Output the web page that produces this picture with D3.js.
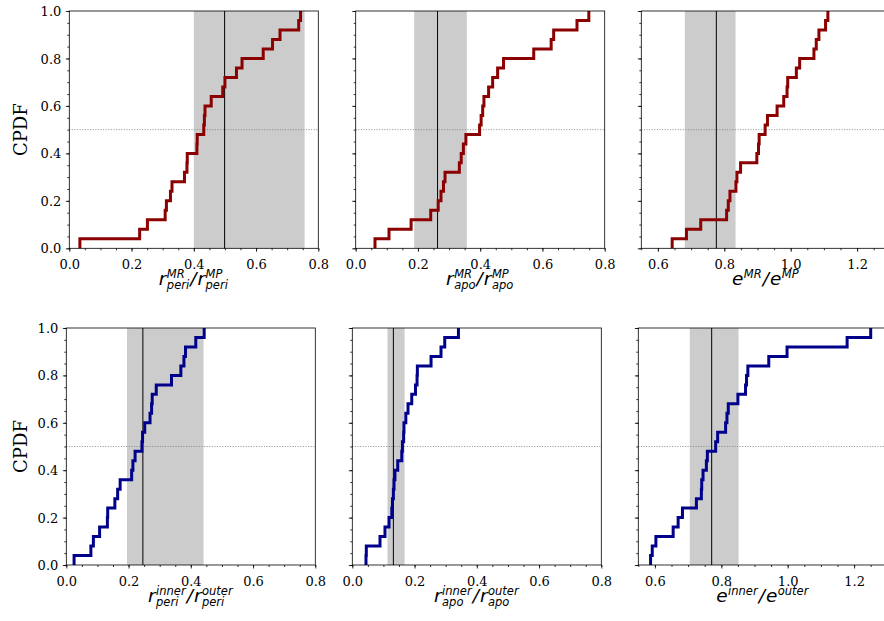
<!DOCTYPE html>
<html><head><meta charset="utf-8">
<script src="https://cdn.jsdelivr.net/npm/d3@7/dist/d3.min.js"></script>
<style>body{margin:0;background:#fff;} svg{display:block}</style>
</head><body><svg id="c" width="884" height="621"></svg>
<script>
// ---- data (sorted samples; CDF steps of 1/25) ----
const rPeriMR = [0.034,0.226,0.251,0.308,0.312,0.325,0.330,0.370,0.378,0.379,0.410,0.411,0.432,0.434,0.436,0.456,0.493,0.500,0.537,0.555,0.623,0.653,0.677,0.737,0.743];
const rApoMR  = [0.062,0.107,0.178,0.241,0.265,0.274,0.282,0.287,0.333,0.339,0.346,0.354,0.398,0.403,0.408,0.412,0.427,0.440,0.456,0.475,0.572,0.628,0.636,0.711,0.749];
const eMR     = [0.643,0.686,0.729,0.807,0.812,0.817,0.835,0.838,0.849,0.898,0.903,0.905,0.923,0.930,0.959,0.979,0.989,0.991,1.017,1.027,1.070,1.077,1.085,1.105,1.112];
const rPeriIO = [0.025,0.079,0.087,0.107,0.132,0.133,0.156,0.165,0.173,0.210,0.214,0.221,0.243,0.245,0.252,0.269,0.274,0.276,0.289,0.338,0.368,0.378,0.383,0.416,0.443];
const rApoIO  = [0.044,0.045,0.089,0.105,0.118,0.127,0.129,0.132,0.134,0.137,0.146,0.159,0.161,0.165,0.166,0.172,0.179,0.191,0.203,0.208,0.209,0.253,0.285,0.297,0.341];
const eIO     = [0.587,0.592,0.603,0.655,0.670,0.683,0.725,0.740,0.741,0.745,0.755,0.758,0.783,0.789,0.813,0.817,0.821,0.850,0.873,0.876,0.880,0.943,0.998,1.179,1.250];
const seriesList = [rPeriMR, rApoMR, eMR, rPeriIO, rApoIO, eIO];
const bandLo = [0.400,0.188,0.681,0.195,0.113,0.705];
const bandHi = [0.756,0.357,0.834,0.441,0.168,0.852];
const medianLine = [0.499,0.263,0.776,0.246,0.132,0.771];
const xDomainR = [0, 0.8], xDomainE = [0.55, 1.30];
const xTicksR = [0,0.2,0.4,0.6,0.8], xTicksE = [0.6,0.8,1.0,1.2];
const yTicks = [0,0.2,0.4,0.6,0.8,1.0];
const refLevel = 0.5;
const yLabel = "CPDF";
const xLabels = [
  [{b:"r",sup:"MR",sub:"peri"},{t:"/"},{b:"r",sup:"MP",sub:"peri"}],
  [{b:"r",sup:"MR",sub:"apo"},{t:"/"},{b:"r",sup:"MP",sub:"apo"}],
  [{b:"e",sup:"MR"},{t:"/"},{b:"e",sup:"MP"}],
  [{b:"r",sup:"inner",sub:"peri"},{t:"/"},{b:"r",sup:"outer",sub:"peri"}],
  [{b:"r",sup:"inner",sub:"apo"},{t:"/"},{b:"r",sup:"outer",sub:"apo"}],
  [{b:"e",sup:"inner"},{t:"/"},{b:"e",sup:"outer"}]
];
const colors = ["#8b0000","#8b0000","#8b0000","#00008b","#00008b","#00008b"];

// ---- layout ----
const W = 249;
const lefts = [[69.3,355.7,641.3],[66.3,352.3,638.3]];
const tops = [[11,248.3],[328,565]];

const svg = d3.select("#c");
const tickFont = "DejaVu Serif";

function minorVals(dom){ const a=[]; for(let v=Math.ceil(dom[0]/0.05-1e-9)*0.05; v<=dom[1]+1e-9; v+=0.05) a.push(+v.toFixed(3)); return a; }

for (let k=0;k<6;k++){
  const row = Math.floor(k/3), col = k%3;
  const x0 = lefts[row][col], y0 = tops[row][0], y1 = tops[row][1];
  const dom = col===2 ? xDomainE : xDomainR;
  const xt = col===2 ? xTicksE : xTicksR;
  const x = d3.scaleLinear().domain(dom).range([x0, x0+W]);
  const y = d3.scaleLinear().domain([0,1]).range([y1, y0]);
  const g = svg.append("g");

  // band
  g.append("rect").attr("x", x(bandLo[k])).attr("y", y0)
    .attr("width", x(bandHi[k])-x(bandLo[k])).attr("height", y1-y0).attr("fill","#cccccc");
  // reference dotted line
  g.append("line").attr("x1", x0).attr("x2", x0+W).attr("y1", y(refLevel)).attr("y2", y(refLevel))
    .attr("stroke","#808080").attr("stroke-width",0.9).attr("stroke-dasharray","1,1.6");
  // median line
  g.append("line").attr("x1", x(medianLine[k])).attr("x2", x(medianLine[k])).attr("y1", y0).attr("y2", y1)
    .attr("stroke","#000").attr("stroke-width",1);
  // step CDF
  const v = seriesList[k], N = v.length;
  const pts = [{x:v[0], y:0}].concat(v.map((d,i)=>({x:d, y:(i+1)/N})));
  const line = d3.line().x(d=>x(d.x)).y(d=>y(d.y)).curve(d3.curveStepAfter);
  g.append("path").datum(pts).attr("d", line).attr("fill","none")
    .attr("stroke", colors[k]).attr("stroke-width",3).attr("stroke-linejoin","miter");

  // axes
  const xa = g.append("g").attr("transform",`translate(0,${y1})`)
    .call(d3.axisBottom(x).tickValues(xt).tickFormat(d3.format(".1f")).tickSizeInner(3.5).tickSizeOuter(0).tickPadding(4));
  xa.attr("font-family",tickFont).attr("font-size",13);
  xa.selectAll("text").attr("font-family",tickFont).attr("font-size",13).attr("fill","#000").attr("dy","0").attr("y",20.5);
  const xm = g.append("g").attr("transform",`translate(0,${y1})`)
    .call(d3.axisBottom(x).tickValues(minorVals(dom)).tickFormat("").tickSizeInner(2).tickSizeOuter(0));
  const ya = g.append("g").attr("transform",`translate(${x0},0)`)
    .call(d3.axisLeft(y).tickValues(yTicks).tickFormat(col===0 ? d3.format(".1f") : "").tickSizeInner(3.5).tickSizeOuter(0).tickPadding(4));
  ya.attr("font-family",tickFont).attr("font-size",13);
  ya.selectAll("text").attr("font-family",tickFont).attr("font-size",13).attr("fill","#000").attr("dy","0.35em").attr("x",-8);
  const ym = g.append("g").attr("transform",`translate(${x0},0)`)
    .call(d3.axisLeft(y).tickValues(d3.range(0,21).map(i=>i*0.05)).tickFormat("").tickSizeInner(2).tickSizeOuter(0));
  [xa,xm,ya,ym].forEach(a=>{ a.select(".domain").remove(); a.selectAll("line").attr("stroke","#000").attr("stroke-width",0.8); });

  // spines
  g.append("rect").attr("x",x0).attr("y",y0).attr("width",W).attr("height",y1-y0)
    .attr("fill","none").attr("stroke","#000").attr("stroke-width",0.8);

  // x label (math-like)
  const lab = g.append("g");
  const base = 18.5, scr = 11.5;
  let cx = 0;
  const by = y1 + 37;
  xLabels[k].forEach(p=>{
    const t = lab.append("text").attr("x",cx).attr("y",by).attr("font-family","DejaVu Sans").attr("font-style","italic")
      .attr("font-size",base).attr("fill","#000").text(p.t || p.b);
    cx += t.node().getComputedTextLength();
    if (p.t) { cx += 1; return; }
    let w = 0;
    if (p.sup){ const s = lab.append("text").attr("x",cx+0.5).attr("y",by-7.5).attr("font-family","DejaVu Sans").attr("font-style","italic").attr("font-size",scr).attr("fill","#000").text(p.sup); w=Math.max(w,s.node().getComputedTextLength()); }
    if (p.sub){ const s = lab.append("text").attr("x",cx+0.5).attr("y",by+3.5).attr("font-family","DejaVu Sans").attr("font-style","italic").attr("font-size",scr).attr("fill","#000").text(p.sub); w=Math.max(w,s.node().getComputedTextLength()); }
    cx += w + 1.5;
  });
  lab.attr("transform",`translate(${x0+W/2-cx/2},0)`);

  if (col===0){
    g.append("text").attr("transform",`translate(27,${(y0+y1)/2}) rotate(-90)`).attr("text-anchor","middle")
      .attr("font-family",tickFont).attr("font-size",18).attr("fill","#000").text(yLabel);
  }
}
</script></body></html>
